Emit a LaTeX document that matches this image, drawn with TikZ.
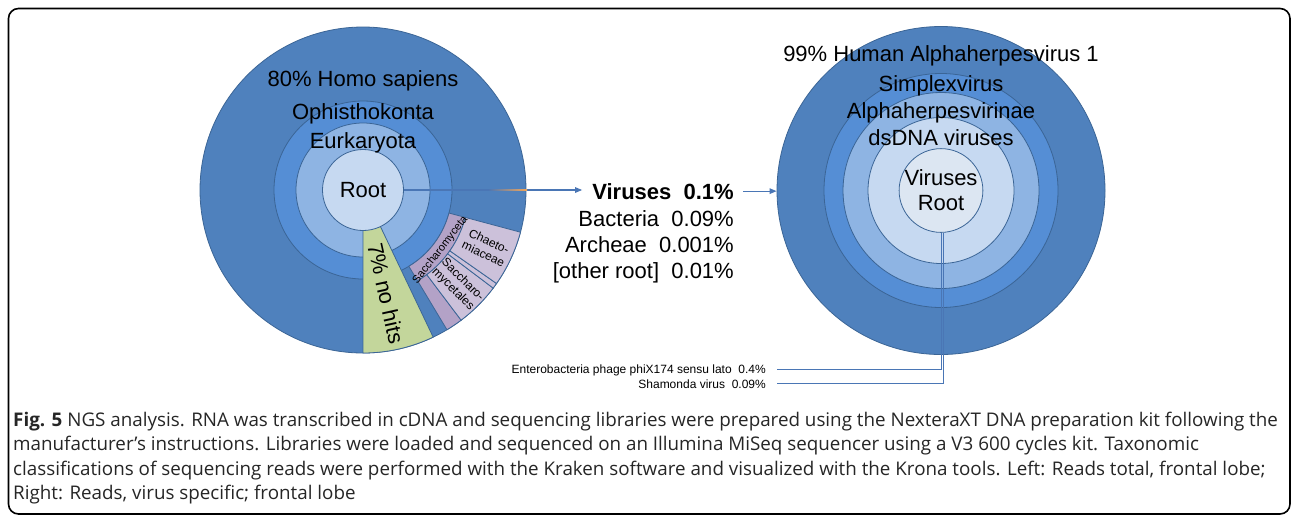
\documentclass[tikz,border=0pt]{standalone}
\usepackage{fontspec}
\setmainfont{Liberation Sans}
\newfontfamily\capfont{Open Sans}
\usetikzlibrary{arrows.meta}
\definecolor{outerblue}{HTML}{4F81BD}
\definecolor{midblue}{HTML}{558ED5}
\definecolor{lightblue}{HTML}{8EB4E3}
\definecolor{paleblue}{HTML}{C6D9F1}
\definecolor{palerblue}{HTML}{DCE6F2}
\definecolor{edgeblue}{HTML}{3B6596}
\definecolor{nohit}{HTML}{C3D69B}
\definecolor{purpledark}{HTML}{B3A2C7}
\definecolor{purplelight}{HTML}{CCC1DA}
\definecolor{linkblue}{HTML}{4A76B5}
\definecolor{fadeorange}{HTML}{F2A65A}
\newcommand{\annsec}[5]{\path[#1] (#2:#4pt) -- (#2:#5pt) arc[start angle=#2,end angle=#3,radius=#5pt] -- (#3:#4pt) arc[start angle=#3,end angle=#2,radius=#4pt] -- cycle;}
\begin{document}
\begin{tikzpicture}[x=1pt,y=1pt,
  ring/.style={fill=#1, draw=edgeblue, line width=0.8pt},
  lbl/.style={font=\fontsize{22}{25}\selectfont, inner sep=0pt},
  smalllbl/.style={font=\fontsize{12}{13.5}\selectfont, inner sep=0pt, align=center},
  leglbl/.style={font=\fontsize{12}{14}\selectfont, inner sep=0pt, anchor=base east},
  link/.style={draw=linkblue, line width=1.2pt},
  tip/.style={-{Triangle[length=7pt,width=5.5pt]}},
  captxt/.style={font=\capfont\fontsize{18.8}{24.5}\selectfont, anchor=base west, inner sep=0pt, text=black!85}]
\useasboundingbox (0,0) rectangle (1292,-515);
\fill[white] (0,0) rectangle (1292,-515);
% frame
\draw[line width=1.6pt, rounded corners=10pt] (8.5,-8.5) rectangle (1290,-514);

% ---------- left chart ----------
\begin{scope}[shift={(363,-190)}]
  \draw[ring=outerblue] (0,0) circle[radius=163pt];
  \draw[ring=midblue] (0,0) circle[radius=89pt];
  \draw[ring=lightblue] (0,0) circle[radius=67pt];
  \annsec{ring=nohit}{-90}{-64.5}{40}{163}
  \annsec{ring=purpledark}{-59}{-15}{89}{106}
  \annsec{ring=purpledark}{-59}{-53}{106}{163}
  \annsec{ring=purplelight}{-53}{-37}{106}{163}
  \annsec{ring=purplelight}{-37}{-35}{106}{163}
  \annsec{ring=purplelight}{-35}{-15}{106}{163}
  \node[lbl, rotate=-77.5] (nohits) at (-77.5:106pt) {7\% no hits};
  \node[smalllbl, font=\fontsize{11}{12}\selectfont, rotate=52] (sacta) at (-37.8:98pt) {Saccharomyceta};
  \node[smalllbl, rotate=-25] (chaeto) at (-25:136pt) {Chaeto-\\miaceae};
  \node[smalllbl, rotate=-45] (saccha) at (-45:134pt) {Saccharo-\\mycetales};
\end{scope}
\node[circle, ring=paleblue, minimum size=81pt, lbl] (lroot) at (363,-190) {Root};
\node[lbl, anchor=base] (hsap) at (363,-86) {80\% Homo sapiens};
\node[lbl, anchor=base] (opis) at (363,-119) {Ophisthokonta};
\node[lbl, anchor=base] (euk) at (363,-148) {Eurkaryota};

% ---------- middle list ----------
\node[lbl, anchor=base east] (vir) at (734,-199) {\textbf{Viruses~~0.1\%}};
\node[lbl, anchor=base east] (bac) at (734,-226) {Bacteria~~0.09\%};
\node[lbl, anchor=base east] (arc) at (734,-252.5) {Archeae~~0.001\%};
\node[lbl, anchor=base east] (oth) at (734,-278.5) {[other root]~~0.01\%};

% ---------- right chart ----------
\node[circle, ring=outerblue, minimum size=328pt, inner sep=0pt] (rchart) at (941,-190.5) {};
\begin{scope}[shift={(941,-190.5)}]
  \draw[ring=midblue] (0,0) circle[radius=117pt];
  \draw[ring=lightblue] (0,0) circle[radius=98pt];
  \draw[ring=paleblue] (0,0) circle[radius=73pt];
\end{scope}
\node[circle, ring=palerblue, minimum size=80pt, lbl, align=center] (rroot) at (941,-190.5) {Viruses\\Root};
\node[lbl, anchor=base] (hhv) at (941,-61) {99\% Human Alphaherpesvirus 1};
\node[lbl, anchor=base] (simp) at (941,-91) {Simplexvirus};
\node[lbl, anchor=base] (alph) at (941,-118) {Alphaherpesvirinae};
\node[lbl, anchor=base] (dsdna) at (941,-145) {dsDNA viruses};

% ---------- connectors ----------
\draw[link, tip, shorten >=10pt] (lroot.east) -- (lroot.east -| vir.west);
\shade[left color=linkblue, right color=fadeorange] (488,-189.4) rectangle (527,-190.6);
\draw[link, tip, shorten <=9pt] (vir.east) -- (vir.east -| rchart.west);

\node[leglbl] (phix) at (766,-373) {Enterobacteria phage phiX174 sensu lato~~0.4\%};
\node[leglbl] (sham) at (766,-388) {Shamonda virus~~0.09\%};
\draw[link, line width=1pt] (rroot.south) |- ([xshift=11pt]phix.east);
\draw[link, line width=1pt] (rroot.-86) |- ([xshift=11pt]sham.east);

% ---------- caption ----------
\node[captxt] (cap1) at (13,-426) {\textbf{Fig. 5} NGS analysis. RNA was transcribed in cDNA and sequencing libraries were prepared using the NexteraXT DNA preparation kit following the};
\node[captxt] (cap2) at (13,-450.5) {manufacturer’s instructions. Libraries were loaded and sequenced on an Illumina MiSeq sequencer using a V3 600 cycles kit. Taxonomic};
\node[captxt] (cap3) at (13,-475) {classifications of sequencing reads were performed with the Kraken software and visualized with the Krona tools. Left: Reads total, frontal lobe;};
\node[captxt] (cap4) at (13,-499.5) {Right: Reads, virus specific; frontal lobe};
\end{tikzpicture}
\end{document}
